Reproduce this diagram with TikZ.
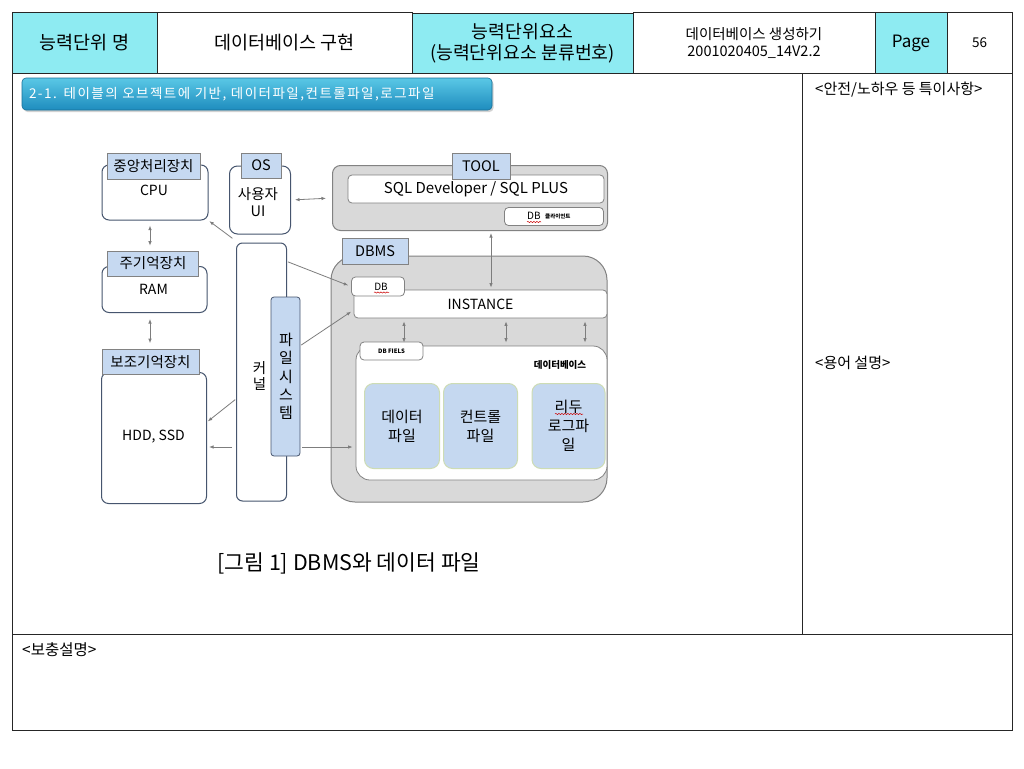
\documentclass[tikz,border=0pt]{standalone}
\usepackage{fontspec}
\setmainfont{Noto Sans CJK KR}
\newfontfamily\banfont[LetterSpace=11]{Noto Sans CJK KR}
\usetikzlibrary{arrows.meta,decorations.pathmorphing,shadows}
\definecolor{hcyan}{RGB}{142,235,242}
\definecolor{tabblue}{RGB}{198,217,241}
\definecolor{filefill}{RGB}{197,216,240}
\definecolor{fileedge}{RGB}{205,220,180}
\definecolor{grayfill}{RGB}{217,217,217}
\definecolor{grayedge}{RGB}{130,130,130}
\definecolor{boxedge}{RGB}{70,85,110}
\definecolor{arrowc}{RGB}{125,125,125}
\definecolor{bantop}{RGB}{90,200,230}
\definecolor{banbot}{RGB}{30,140,190}
\newcommand{\fs}[1]{\fontsize{#1}{#1}\selectfont}
\begin{document}
\begin{tikzpicture}[x=1pt,y=-1pt,
  hcell/.style={draw=black!85, line width=1pt, minimum height=60pt, inner sep=0pt, align=center},
  box/.style={draw=boxedge, fill=white, rounded corners=7pt, line width=1pt, inner sep=0pt, align=center},
  tabx/.style={draw=grayedge, fill=tabblue, line width=0.6pt, inner sep=0pt, font=\fs{14.5}},
  graybox/.style={draw=grayedge, fill=grayfill, line width=1pt, inner sep=0pt},
  wbox/.style={draw=grayedge, fill=white, line width=0.8pt, inner sep=0pt, rounded corners=4pt},
  filebox/.style={draw=fileedge, fill=filefill, line width=1pt, rounded corners=9pt, inner sep=0pt, align=center, font=\fontsize{15}{19}\selectfont},
  arr/.style={draw=arrowc, line width=0.8pt, -{Latex[length=4.5pt,width=3.5pt]}},
  darr/.style={draw=arrowc, line width=0.8pt, {Latex[length=4.5pt,width=3.5pt]}-{Latex[length=4.5pt,width=3.5pt]}},
  wavy/.style={draw=red!80!black, line width=0.5pt, decorate, decoration={snake, amplitude=0.6pt, segment length=3pt}},
  note/.style={anchor=west, inner sep=0pt, font=\fs{15}}
]
\useasboundingbox (0,0) rectangle (1024,768);
\fill[white] (0,0) rectangle (1024,768);

% ---------- header ----------
\node[hcell, fill=hcyan, minimum width=145pt, font=\fs{18.5}] (h1) at (84.5,43) {능력단위 명};
\node[hcell, fill=white, minimum width=255pt, font=\fs{18.5}] (h2) at (284.5,43) {데이터베이스 구현};
\node[hcell, fill=hcyan, minimum width=221pt, font=\fontsize{18.3}{21}\selectfont] (h3) at (522.5,43.5) {능력단위요소\\(능력단위요소 분류번호)};
\node[hcell, fill=white, minimum width=242pt, font=\fontsize{14.5}{17}\selectfont] (h4) at (754,43) {데이터베이스 생성하기\\2001020405\_14V2.2};
\node[hcell, fill=hcyan, minimum width=72pt, font=\fs{17}] (h5) at (911,43) {Page};
\node[hcell, fill=white, minimum width=65pt, font=\fs{13.5}] (h6) at (979.5,43) {56};

% ---------- body frame ----------
\draw[black!85, line width=1pt] (12,73) rectangle (1012,730);
\draw[black!85, line width=1pt] (802,73) -- (802,634);
\draw[black!85, line width=1pt] (12,634) -- (1012,634);

\node[note] (n1) at (815,90) {<안전/노하우 등 특이사항>};
\node[note] (n2) at (815,363) {<용어 설명>};
\node[note, font=\fs{15.5}] (n3) at (22,650) {<보충설명>};

% ---------- banner ----------
\node[draw=banbot!80!black, line width=0.6pt, rounded corners=4pt, top color=bantop, bottom color=banbot,
      drop shadow={shadow xshift=1.5pt, shadow yshift=-2pt, opacity=0.35},
      minimum width=470pt, minimum height=32pt, inner xsep=7pt, text width=456pt, align=left,
      text=white, font=\banfont\fs{13.5}] (ban) at (257,94) {2-1. 테이블의 오브젝트에 기반, 데이터파일,컨트롤파일,로그파일};

% ---------- left column ----------
\node[box, minimum width=106pt, minimum height=55pt] (cpu) at (155,192.5) {};
\node[font=\fs{14}] (cput) at (154,190) {CPU};
\node[tabx, minimum width=93pt, minimum height=26pt] (cputab) at (153.5,166) {중앙처리장치};

\node[box, minimum width=105pt, minimum height=46pt] (ram) at (154.5,289.5) {};
\node[font=\fs{14}] (ramt) at (153.5,289) {RAM};
\node[tabx, minimum width=91pt, minimum height=25pt] (ramtab) at (153,263.5) {주기억장치};

\node[box, minimum width=105pt, minimum height=131pt] (hdd) at (154,438) {};
\node[font=\fs{14}] (hddt) at (153.5,437) {HDD, SSD};
\node[tabx, minimum width=97pt, minimum height=25pt] (hddtab) at (150.5,362) {보조기억장치};

% ---------- OS ----------
\node[box, minimum width=61pt, minimum height=68pt, rounded corners=8pt] (os) at (260,200) {};
\node[font=\fontsize{14.5}{17}\selectfont, align=center] (ost) at (258,202) {사용자\\UI};
\node[tabx, minimum width=40pt, minimum height=25pt] (ostab) at (261,165.5) {OS};

% ---------- kernel ----------
\node[box, minimum width=50pt, minimum height=258pt, rounded corners=6pt] (kern) at (261.5,372) {};
\node[font=\fontsize{14.5}{16}\selectfont, align=center] (kernt) at (259.5,375.5) {커\\널};
\node[draw=boxedge, fill=filefill, line width=0.8pt, rounded corners=3pt, minimum width=29pt, minimum height=159pt, inner sep=0pt] (fsys) at (285.5,376.5) {};
\node[font=\fontsize{15}{18.3}\selectfont, align=center] (fsyst) at (286,376.5) {파\\일\\시\\스\\템};

% ---------- TOOL ----------
\node[graybox, rounded corners=8pt, minimum width=275pt, minimum height=65pt] (tool) at (470,198) {};
\node[wbox, minimum width=256pt, minimum height=28pt, font=\fs{15}] (sql) at (476,189) {SQL Developer / SQL PLUS};
\node[wbox, minimum width=99pt, minimum height=18pt] (dbc) at (554,216.5) {};
\node[anchor=west, inner sep=0pt, font=\fs{10}] (dbct) at (527,216) {DB};
\node[anchor=west, inner sep=0pt, font=\bfseries\fs{5.5}] (dbct2) at (545,216) {클라이언트};
\draw[wavy] (527,222) -- (541,222);
\node[tabx, minimum width=58pt, minimum height=26pt] (tooltab) at (481,166) {TOOL};

% ---------- DBMS ----------
\node[graybox, rounded corners=24pt, minimum width=276pt, minimum height=246pt] (dbms) at (469,379) {};
\node[tabx, minimum width=66pt, minimum height=26pt] (dbmstab) at (375,251.5) {DBMS};
\node[wbox, minimum width=253pt, minimum height=28pt, font=\fs{14}] (inst) at (480.5,304) {INSTANCE};
\node[wbox, minimum width=53pt, minimum height=19pt] (dbx) at (378,286.5) {};
\node[font=\fs{10}, inner sep=0pt] (dbxt) at (381,286.5) {DB};
\draw[wavy] (374,292.5) -- (389,292.5);

\node[draw=grayedge, fill=white, line width=0.8pt, rounded corners=14pt, minimum width=251pt, minimum height=134pt] (dbase) at (481.5,413) {};
\node[wbox, minimum width=63pt, minimum height=18pt, font=\bfseries\fs{6}] (dbf) at (391.5,351) {DB FIELS};
\node[font=\bfseries\fs{9.5}, inner sep=0pt] (dbaset) at (560,365) {데이터베이스};

\node[filebox, minimum width=75pt, minimum height=85pt] (f1) at (402,426) {데이터\\파일};
\node[filebox, minimum width=74pt, minimum height=85pt] (f2) at (480.5,426) {컨트롤\\파일};
\node[filebox, minimum width=73pt, minimum height=85pt] (f3) at (568.5,426) {리두\\로그파\\일};
\draw[wavy] (555,414) -- (583,414);

% ---------- caption ----------
\node[font=\fs{21.5}, inner sep=0pt] (cap) at (349,563) {[그림 1] DBMS와 데이터 파일};

% ---------- connectors ----------
\draw[darr, shorten <=5pt, shorten >=5pt] ([xshift=-5pt]cpu.south) -- ([xshift=-3pt]ramtab.north);
\draw[darr, shorten <=6pt, shorten >=6pt] ([xshift=-4.5pt]ram.south) -- ([xshift=-0.5pt]hddtab.north);
\draw[darr, shorten <=4pt, shorten >=6pt] (os.east) -- (tool.west);
\draw[arr, shorten <=2pt, shorten >=1pt] ([xshift=-2pt,yshift=3pt]kern.north west) -- (cpu.south east);
\draw[arr, shorten <=1pt, shorten >=3pt] ([yshift=-19pt]kern.north east) -- (dbx.west);
\draw[arr, shorten <=1pt, shorten >=3pt] ([yshift=-49pt]fsys.north east) -- ([yshift=-6pt]inst.west);
\draw[arr, shorten <=1pt, shorten >=1pt] ([yshift=-27pt]kern.west) -- ([yshift=16pt]hdd.east);
\draw[arr, shorten <=4pt, shorten >=2pt] ([yshift=-75pt]kern.west) -- ([yshift=-9pt]hdd.east);
\draw[arr, shorten <=2pt, shorten >=3pt] ([yshift=-70.5pt]fsys.east) -- ([yshift=-34pt]dbase.west);
\draw[darr, shorten <=2pt, shorten >=2pt] ([xshift=21pt]tool.south) -- ([xshift=10.5pt]inst.north);
\draw[darr, shorten <=3pt, shorten >=3pt] ([xshift=-76.5pt]inst.south) -- ([xshift=-77.5pt]dbase.north);
\draw[darr, shorten <=3pt, shorten >=3pt] ([xshift=25.5pt]inst.south) -- ([xshift=24.5pt]dbase.north);
\draw[darr, shorten <=3pt, shorten >=3pt] ([xshift=104.5pt]inst.south) -- ([xshift=103.5pt]dbase.north);
\end{tikzpicture}
\end{document}
